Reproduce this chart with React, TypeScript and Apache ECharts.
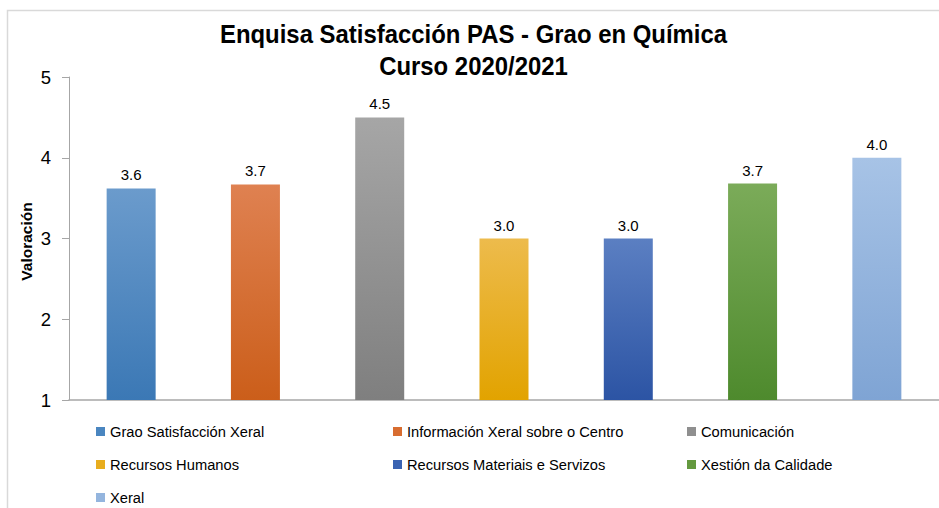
import React, { useEffect, useRef } from "react";
import * as echarts from "echarts";

const categories = [
  "Grao Satisfacción Xeral",
  "Información Xeral sobre o Centro",
  "Comunicación",
  "Recursos Humanos",
  "Recursos Materiais e Servizos",
  "Xestión da Calidade",
  "Xeral",
];
const values = [3.62, 3.67, 4.5, 3.0, 3.0, 3.68, 4.0];
const topColors = ["#6b9bcc", "#df8151", "#a6a6a6", "#edbb4c", "#5b7fc2", "#7bab59", "#a7c3e6"];
const bottomColors = ["#3b78b5", "#cb5e1a", "#7f7f7f", "#e2a300", "#2c54a4", "#4e8a2d", "#7fa4d4"];
const legendColors = ["#4a86c0", "#d86d30", "#8f8f8f", "#e8ad1e", "#3a63b2", "#64993f", "#94b5de"];
const yTicks = { min: 1, max: 5, interval: 1 };
const titleLines = ["Enquisa Satisfacción PAS - Grao en Química", "Curso 2020/2021"];
const axisName = "Valoración";
const legendColumns = [
  [0, 3, 6],
  [1, 4],
  [2, 5],
];

export default function App() {
  const ref = useRef<HTMLDivElement>(null);
  useEffect(() => {
    if (!ref.current) return;
    const chart = echarts.init(ref.current, null, { renderer: "svg" });
    const series = categories.map((name, i) => ({
      name,
      type: "bar",
      stack: "all",
      barWidth: 49,
      data: categories.map((_, j) => (j === i ? values[i] : null)),
      itemStyle: {
        color: new echarts.graphic.LinearGradient(0, 0, 0, 1, [
          { offset: 0, color: topColors[i] },
          { offset: 1, color: bottomColors[i] },
        ]),
      },
      label: {
        show: true,
        position: "top",
        distance: 6,
        color: "#000",
        fontFamily: "Liberation Sans, Arial, sans-serif",
        fontSize: 15,
        formatter: (p: any) => (p.value == null ? "" : Number(p.value).toFixed(1)),
      },
    }));
    const legendLefts = [96, 393, 687];
    const legends = legendColumns.map((col, k) => ({
      orient: "vertical",
      left: legendLefts[k],
      top: 424,
      padding: 0,
      itemWidth: 9,
      itemHeight: 9,
      itemGap: 18,
      icon: "rect",
      selectedMode: false,
      textStyle: {
        color: "#000",
        fontFamily: "Liberation Sans, Arial, sans-serif",
        fontSize: 14.7,
        lineHeight: 15,
      },
      data: col.map((i) => ({ name: categories[i], itemStyle: { color: legendColors[i] } })),
    }));
    const titleFont = {
      fontFamily: "Liberation Sans, Arial, sans-serif",
      fontWeight: "bold",
      fontSize: 26,
      fill: "#000",
      align: "center",
      verticalAlign: "middle",
      textAlign: "center",
      textVerticalAlign: "middle",
    };
    chart.setOption({
      animation: false,
      backgroundColor: "#fff",
      graphic: [
        {
          type: "rect",
          shape: { x: 7.5, y: 10.5, width: 1000, height: 600 },
          style: { fill: "none", stroke: "#d9d9d9", lineWidth: 1.5 },
          silent: true,
        },
        {
          type: "text",
          x: 473.5,
          y: 34,
          scaleX: 0.92,
          silent: true,
          style: { text: titleLines[0], x: 0, y: 0, ...titleFont },
        },
        {
          type: "text",
          x: 473.5,
          y: 65.5,
          scaleX: 0.92,
          silent: true,
          style: { text: titleLines[1], x: 0, y: 0, ...titleFont },
        },
        {
          type: "text",
          x: 26.5,
          y: 241.5,
          rotation: Math.PI / 2,
          silent: true,
          style: {
            text: axisName,
            x: 0,
            y: 0,
            fontFamily: "Liberation Sans, Arial, sans-serif",
            fontWeight: "bold",
            fontSize: 15.5,
            fill: "#000",
            align: "center",
            verticalAlign: "middle",
            textAlign: "center",
            textVerticalAlign: "middle",
          },
        },
      ],
      legend: legends,
      grid: { left: 69, right: 0, top: 77, bottom: 108, containLabel: false },
      xAxis: {
        type: "category",
        data: categories,
        axisLine: { lineStyle: { color: "#a6a6a6", width: 1.5 } },
        axisTick: { show: false },
        axisLabel: { show: false },
      },
      yAxis: {
        type: "value",
        min: yTicks.min,
        max: yTicks.max,
        interval: yTicks.interval,
        splitLine: { show: false },
        axisLine: { show: true, lineStyle: { color: "#a6a6a6", width: 1 } },
        axisTick: { show: true, length: 7, lineStyle: { color: "#a6a6a6" } },
        axisLabel: {
          color: "#000",
          fontFamily: "Liberation Sans, Arial, sans-serif",
          fontSize: 18.5,
          margin: 18,
        },
      },
      series,
    });
    return () => chart.dispose();
  }, []);
  return (
    <div
      ref={ref}
      style={{ position: "absolute", left: 0, top: 0, width: 939, height: 508 }}
    />
  );
}
